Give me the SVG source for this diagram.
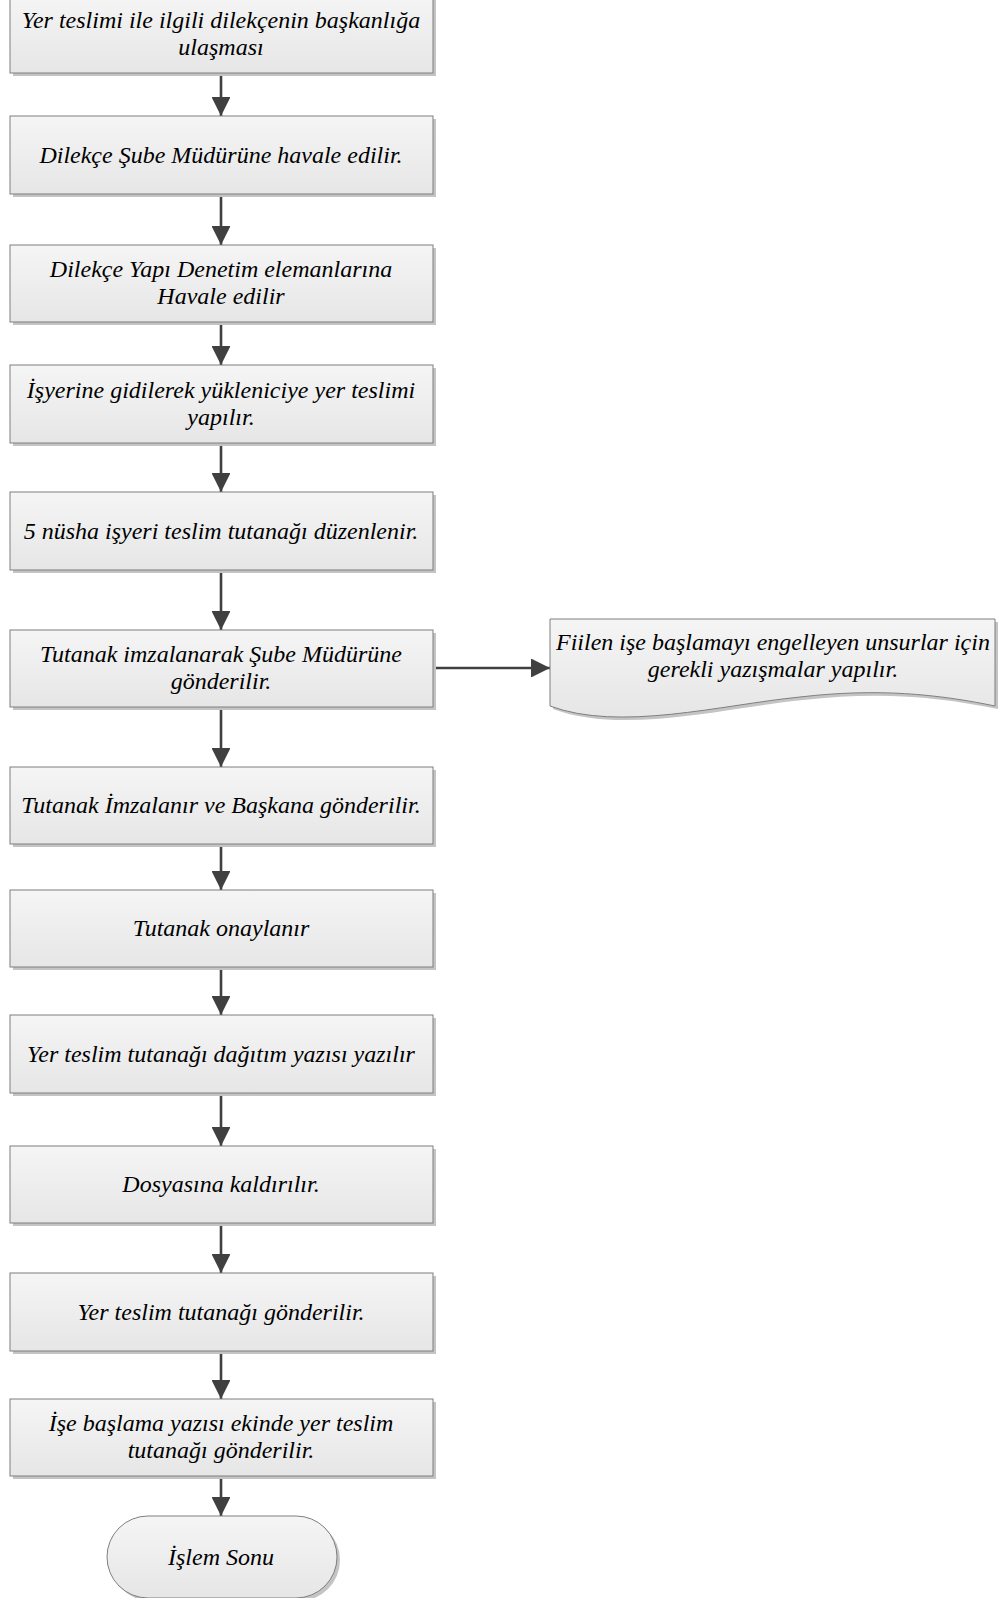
<svg xmlns="http://www.w3.org/2000/svg" width="999" height="1598" viewBox="0 0 999 1598">
<style>
.box{fill:url(#g);stroke:#7f7f7f;stroke-width:1}
.sh{fill:#c4c4c4}
.t{font-family:"Liberation Serif","Times New Roman",serif;font-style:italic;font-size:24px;fill:#000;text-anchor:middle}
.c{stroke:#404040;stroke-width:2.6;fill:none}
</style>
<defs>
<linearGradient id="g" x1="0" y1="0" x2="0" y2="1">
<stop offset="0" stop-color="#f5f5f5"/>
<stop offset="1" stop-color="#e6e6e6"/>
</linearGradient>
<marker id="a" viewBox="0 0 10 10" refX="10" refY="5" markerWidth="7.3" markerHeight="7.3" markerUnits="strokeWidth" orient="auto">
<path d="M0,0 L10,5 L0,10 z" fill="#404040"/>
</marker>
</defs>
<rect width="999" height="1598" fill="#fff"/>
<g id="connectors">
<line class="c" x1="221" y1="73" x2="221" y2="116" marker-end="url(#a)"/>
<line class="c" x1="221" y1="194" x2="221" y2="245" marker-end="url(#a)"/>
<line class="c" x1="221" y1="322" x2="221" y2="365" marker-end="url(#a)"/>
<line class="c" x1="221" y1="443" x2="221" y2="492" marker-end="url(#a)"/>
<line class="c" x1="221" y1="570" x2="221" y2="630" marker-end="url(#a)"/>
<line class="c" x1="221" y1="707" x2="221" y2="767" marker-end="url(#a)"/>
<line class="c" x1="221" y1="844" x2="221" y2="890" marker-end="url(#a)"/>
<line class="c" x1="221" y1="967" x2="221" y2="1015" marker-end="url(#a)"/>
<line class="c" x1="221" y1="1093" x2="221" y2="1146" marker-end="url(#a)"/>
<line class="c" x1="221" y1="1223" x2="221" y2="1273" marker-end="url(#a)"/>
<line class="c" x1="221" y1="1351" x2="221" y2="1399" marker-end="url(#a)"/>
<line class="c" x1="221" y1="1476" x2="221" y2="1516" marker-end="url(#a)"/>
<line class="c" x1="433" y1="668" x2="550" y2="668" marker-end="url(#a)"/>
</g>
<g id="n1"><rect class="sh" x="13" y="-2" width="423" height="78"/><rect class="box" x="10" y="-5" width="423" height="78"/>
<text class="t" x="221" y="28">Yer teslimi ile ilgili dilekçenin başkanlığa</text><text class="t" x="221" y="55">ulaşması</text></g>
<g id="n2"><rect class="sh" x="13" y="119" width="423" height="78"/><rect class="box" x="10" y="116" width="423" height="78"/>
<text class="t" x="221" y="163">Dilekçe Şube Müdürüne havale edilir.</text></g>
<g id="n3"><rect class="sh" x="13" y="248" width="423" height="77"/><rect class="box" x="10" y="245" width="423" height="77"/>
<text class="t" x="221" y="277">Dilekçe Yapı Denetim elemanlarına</text><text class="t" x="221" y="304">Havale edilir</text></g>
<g id="n4"><rect class="sh" x="13" y="368" width="423" height="78"/><rect class="box" x="10" y="365" width="423" height="78"/>
<text class="t" x="221" y="398">İşyerine gidilerek yükleniciye yer teslimi</text><text class="t" x="221" y="425">yapılır.</text></g>
<g id="n5"><rect class="sh" x="13" y="495" width="423" height="78"/><rect class="box" x="10" y="492" width="423" height="78"/>
<text class="t" x="221" y="539">5 nüsha işyeri teslim tutanağı düzenlenir.</text></g>
<g id="n6"><rect class="sh" x="13" y="633" width="423" height="77"/><rect class="box" x="10" y="630" width="423" height="77"/>
<text class="t" x="221" y="662">Tutanak imzalanarak Şube Müdürüne</text><text class="t" x="221" y="689">gönderilir.</text></g>
<g id="n7"><rect class="sh" x="13" y="770" width="423" height="77"/><rect class="box" x="10" y="767" width="423" height="77"/>
<text class="t" x="221" y="813">Tutanak İmzalanır ve Başkana gönderilir.</text></g>
<g id="n8"><rect class="sh" x="13" y="893" width="423" height="77"/><rect class="box" x="10" y="890" width="423" height="77"/>
<text class="t" x="221" y="936">Tutanak onaylanır</text></g>
<g id="n9"><rect class="sh" x="13" y="1018" width="423" height="78"/><rect class="box" x="10" y="1015" width="423" height="78"/>
<text class="t" x="221" y="1062">Yer teslim tutanağı dağıtım yazısı yazılır</text></g>
<g id="n10"><rect class="sh" x="13" y="1149" width="423" height="77"/><rect class="box" x="10" y="1146" width="423" height="77"/>
<text class="t" x="221" y="1192">Dosyasına kaldırılır.</text></g>
<g id="n11"><rect class="sh" x="13" y="1276" width="423" height="78"/><rect class="box" x="10" y="1273" width="423" height="78"/>
<text class="t" x="221" y="1320">Yer teslim tutanağı gönderilir.</text></g>
<g id="n12"><rect class="sh" x="13" y="1402" width="423" height="77"/><rect class="box" x="10" y="1399" width="423" height="77"/>
<text class="t" x="221" y="1431">İşe başlama yazısı ekinde yer teslim</text><text class="t" x="221" y="1458">tutanağı gönderilir.</text></g>
<g id="end"><rect class="sh" x="110" y="1519" width="230" height="82" rx="41"/><rect class="box" x="107" y="1516" width="230" height="82" rx="41"/>
<text class="t" x="221" y="1565">İşlem Sonu</text></g>
<g id="doc">
<path class="sh" d="M553,622 H998 V709 C940,697 880,691 803,700 C723,708 623,735 553,709 Z"/>
<path class="box" d="M550,619 H995 V706 C937,694 877,688 800,697 C720,705 620,732 550,706 Z"/>
<text class="t" x="773" y="650">Fiilen işe başlamayı engelleyen unsurlar için</text><text class="t" x="773" y="677">gerekli yazışmalar yapılır.</text></g>
</svg>
